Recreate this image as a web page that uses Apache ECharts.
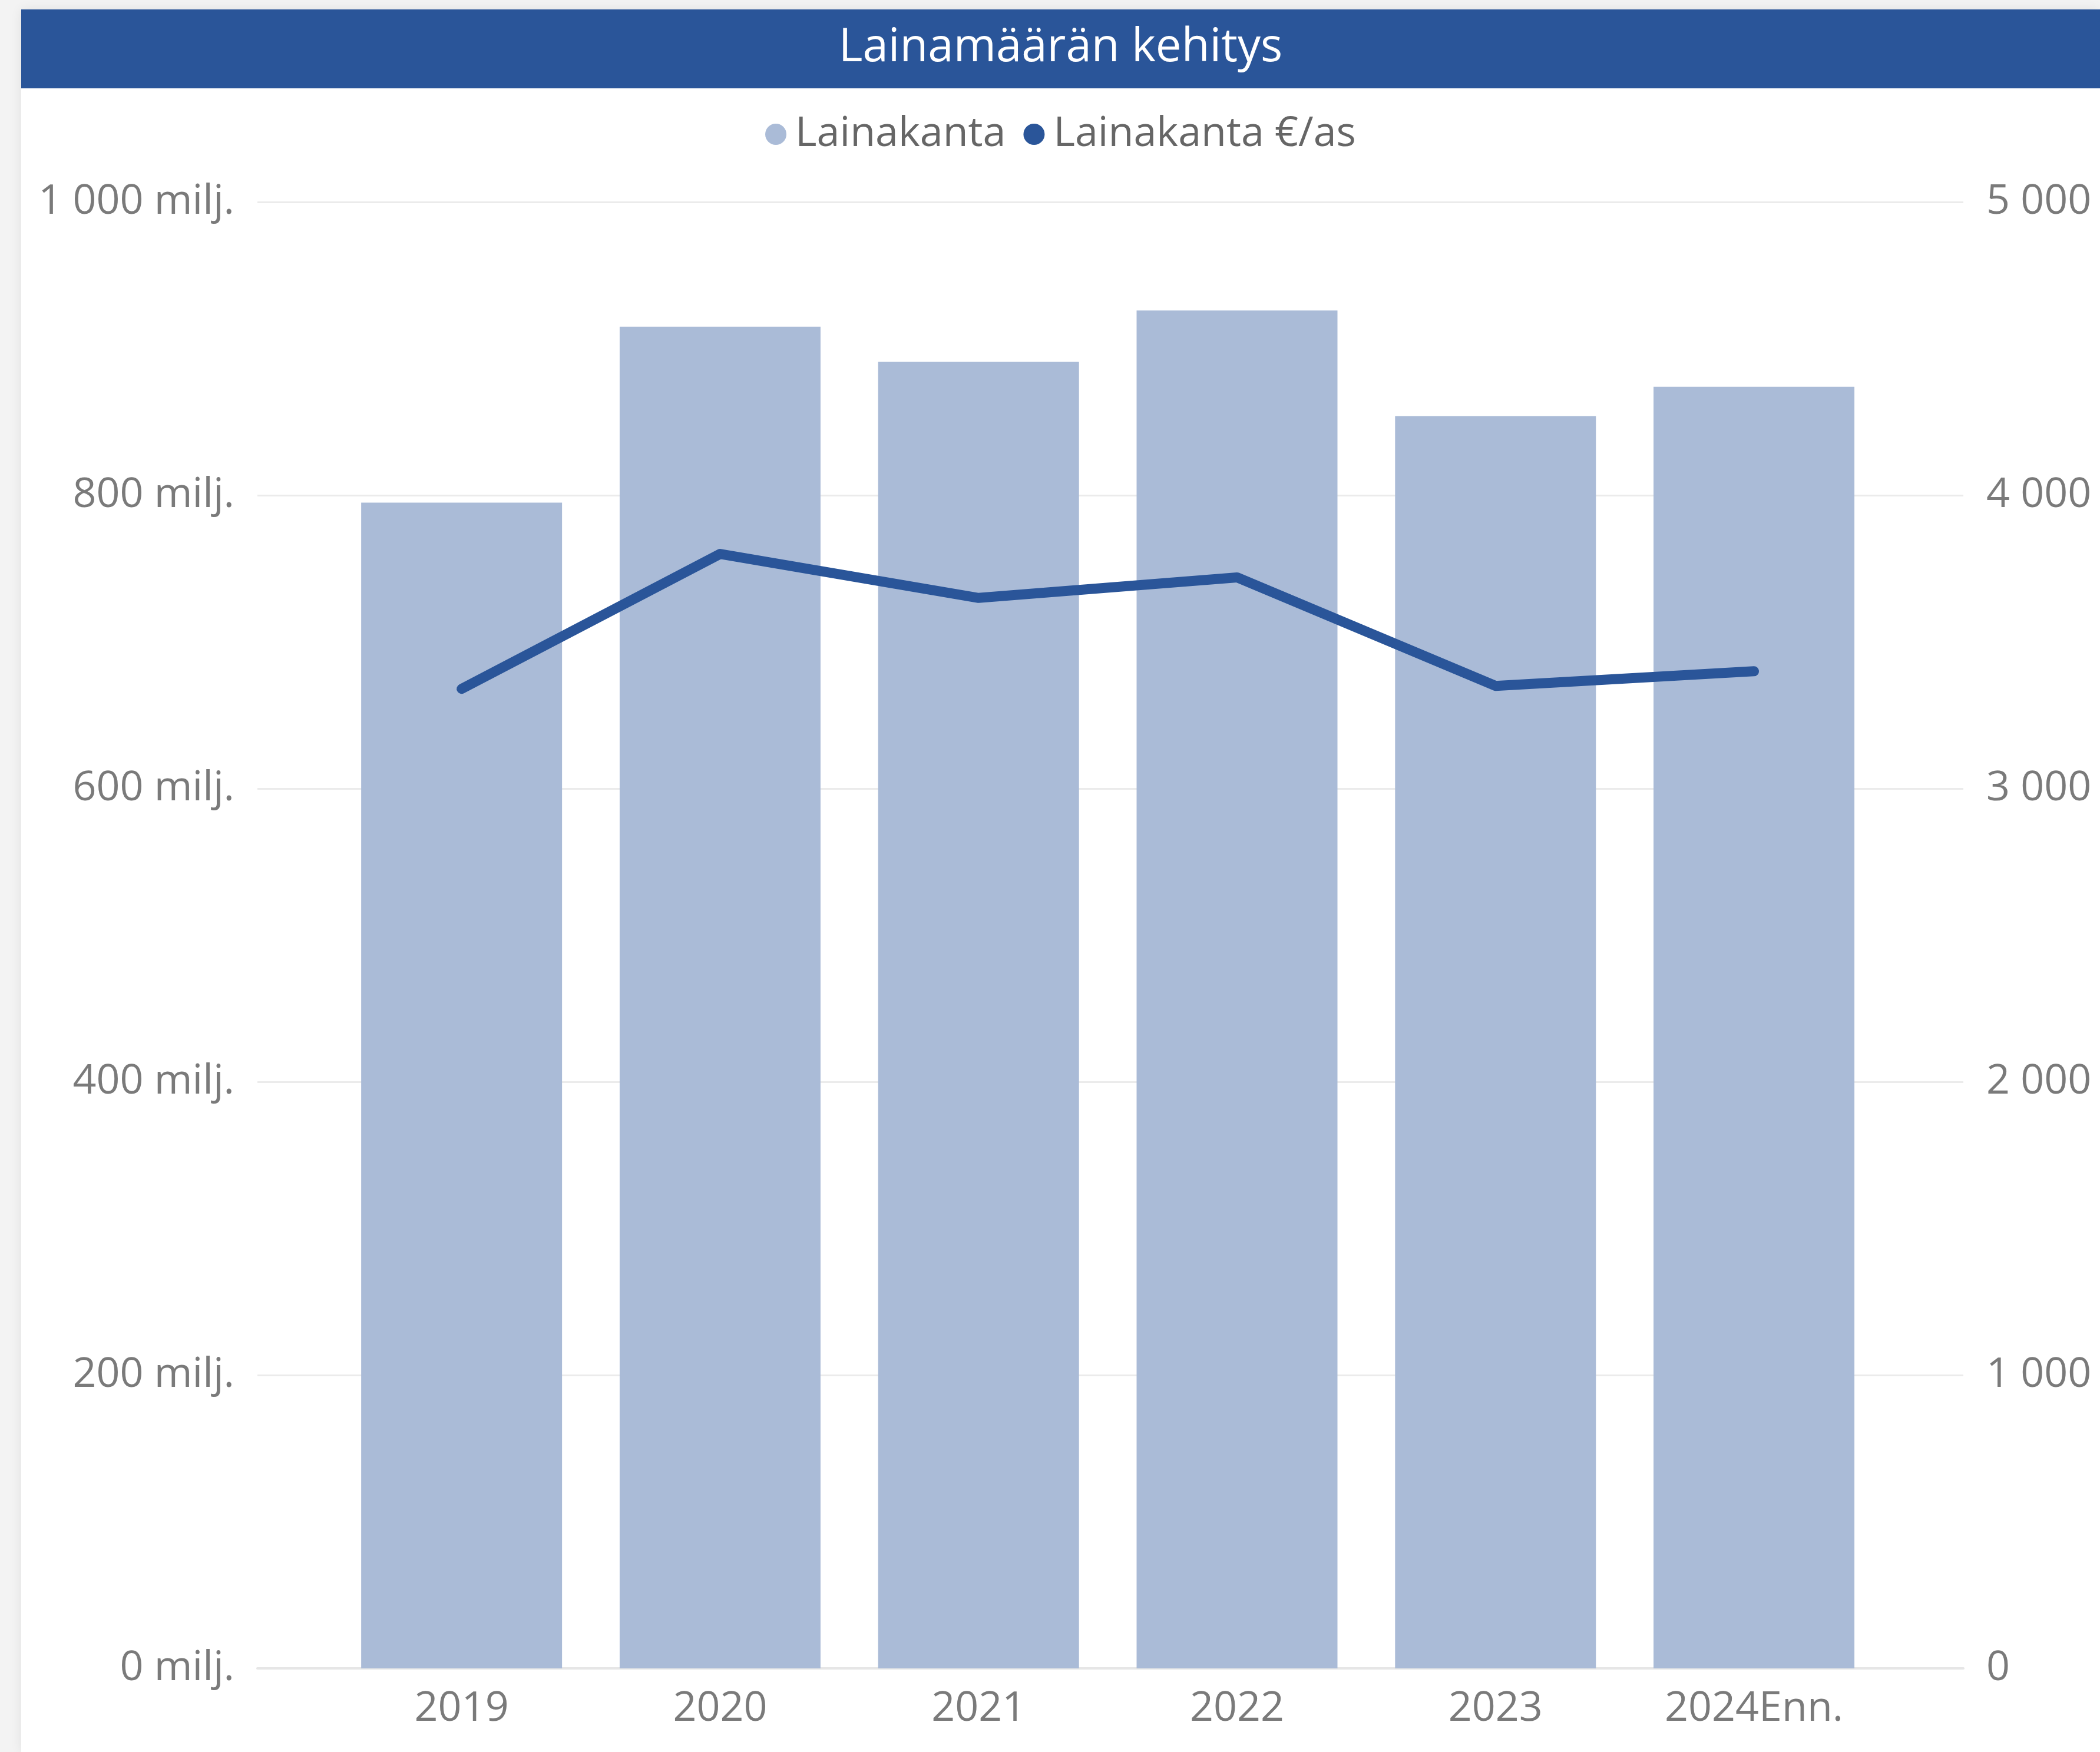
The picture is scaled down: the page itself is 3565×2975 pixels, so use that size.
<!DOCTYPE html>
<html lang="fi">
<head>
<meta charset="utf-8">
<title>Lainamäärän kehitys</title>
<script src="https://cdn.jsdelivr.net/npm/echarts@6/dist/echarts.min.js"></script>
<style>
  html, body {
    margin: 0;
    padding: 0;
    width: 3565px;
    height: 2975px;
    background-color: #f3f3f3;
    overflow: hidden;
  }
  #chart {
    position: absolute;
    left: 36px;
    top: 16px;
    width: 3529px;
    height: 2959px;
    background-color: #ffffff;
    box-shadow: 0 0 18px rgba(0, 0, 0, 0.08);
  }
</style>
</head>
<body>
<div id="chart"></div>
<script>
// data
const years = ['2019', '2020', '2021', '2022', '2023', '2024Enn.']
const loanStock = [795, 915, 891, 926, 854, 874]          // milj. €
const loanPerCapita = [3340, 3800, 3650, 3720, 3350, 3400] // €/as
const leftTicks = [0, 200, 400, 600, 800, 1000]
const rightTicks = [0, 1000, 2000, 3000, 4000, 5000]

const barColor = '#aabbd7'
const lineColor = '#2a5599'
const labelColor = '#7a7a7a'
const fontFamily = '"Open Sans", "Noto Sans", sans-serif'

// 1 000 -> "1 000"
const fmtThousands = (v) => String(v).replace(/\B(?=(\d{3})+(?!\d))/g, ' ')

const chart = echarts.init(document.getElementById('chart'))

const option = {
  animation: false,
  textStyle: { fontFamily },
  graphic: [
    {
      type: 'rect',
      left: 0,
      top: 0,
      z: -1,
      shape: { width: 3529, height: 134 },
      style: { fill: '#2a5599' }
    }
  ],
  title: {
    text: 'Lainamäärän kehitys',
    left: 'center',
    top: 22,
    textStyle: {
      color: '#ffffff',
      fontSize: 78,
      fontWeight: 'normal',
      fontFamily
    }
  },
  legend: {
    top: 172,
    left: 'center',
    icon: 'circle',
    itemWidth: 36,
    itemHeight: 36,
    itemGap: 30,
    textStyle: {
      color: '#666666',
      fontSize: 70,
      fontFamily,
      padding: [0, 0, 0, 10]
    },
    data: ['Lainakanta', 'Lainakanta €/as']
  },
  grid: {
    left: 401,
    right: 232,
    top: 327,
    bottom: 142,
    containLabel: false
  },
  xAxis: {
    type: 'value',
    min: -0.79,
    max: 5.81,
    splitLine: { show: false },
    axisTick: { show: false },
    axisLine: {
      show: true,
      onZero: false,
      lineStyle: { color: '#e6e6e6', width: 4 }
    },
    axisLabel: {
      customValues: years.map((_, i) => i),
      formatter: (v) => years[Math.round(v)] ?? '',
      color: labelColor,
      fontSize: 70,
      margin: 34,
      fontFamily
    }
  },
  yAxis: [
    {
      type: 'value',
      min: leftTicks[0],
      max: leftTicks[leftTicks.length - 1],
      interval: 200,
      axisLine: { show: false },
      axisTick: { show: false },
      splitLine: { lineStyle: { color: '#ebebeb', width: 3 } },
      axisLabel: {
        formatter: (v) => fmtThousands(v) + ' milj.',
        color: labelColor,
        fontSize: 70,
        margin: 39,
        fontFamily
      }
    },
    {
      type: 'value',
      position: 'right',
      min: rightTicks[0],
      max: rightTicks[rightTicks.length - 1],
      interval: 1000,
      axisLine: { show: false },
      axisTick: { show: false },
      splitLine: { show: false },
      axisLabel: {
        formatter: (v) => fmtThousands(v),
        color: labelColor,
        fontSize: 70,
        margin: 39,
        fontFamily
      }
    }
  ],
  series: [
    {
      name: 'Lainakanta',
      type: 'bar',
      yAxisIndex: 0,
      barWidth: 341,
      itemStyle: { color: barColor },
      data: loanStock.map((v, i) => [i, v])
    },
    {
      name: 'Lainakanta €/as',
      type: 'line',
      yAxisIndex: 1,
      showSymbol: false,
      symbol: 'circle',
      itemStyle: { color: lineColor },
      lineStyle: { color: lineColor, width: 17, cap: 'round', join: 'round' },
      z: 3,
      data: loanPerCapita.map((v, i) => [i, v])
    }
  ]
}

chart.setOption(option)
</script>
</body>
</html>
